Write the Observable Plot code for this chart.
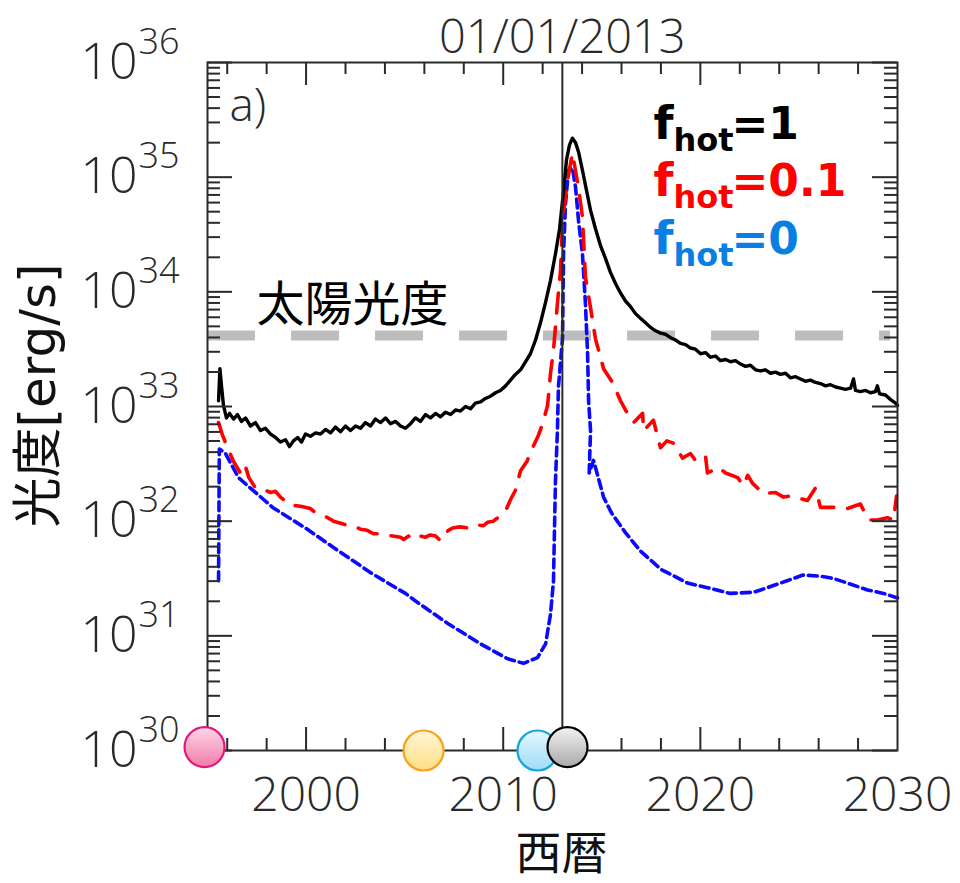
<!DOCTYPE html>
<html>
<head>
<meta charset="utf-8">
<script src="https://cdn.jsdelivr.net/npm/d3@7"></script>
<script src="https://cdn.jsdelivr.net/npm/@observablehq/plot@0.6"></script>
<style>
  body { margin: 0; background: #fff; }
</style>
</head>
<body>
<div id="chart"></div>
<script>
// ---- luminosity curves (log10 of L in erg/s) ----
// f_hot = 1
const hot1Year = [1995.56,1995.63,1995.71,1995.81,1995.96,1996.12,1996.32,1996.52,1996.72,1996.93,1997.18,1997.43,1997.69,1997.94,1998.20,1998.45,1998.70,1998.96,1999.16,1999.36,1999.57,1999.77,1999.97,2000.22,2000.48,2000.73,2000.99,2001.24,2001.49,2001.75,2002.00,2002.25,2002.51,2002.76,2003.01,2003.27,2003.52,2003.78,2004.03,2004.28,2004.54,2004.79,2005.04,2005.30,2005.55,2005.80,2006.06,2006.31,2006.57,2006.82,2007.07,2007.33,2007.58,2007.83,2008.09,2008.34,2008.59,2008.85,2009.10,2009.36,2009.61,2009.86,2010.12,2010.37,2010.62,2010.88,2011.13,2011.38,2011.64,2011.89,2012.15,2012.40,2012.65,2012.86,2013.06,2013.21,2013.36,2013.51,2013.67,2013.82,2014.02,2014.23,2014.43,2014.68,2014.94,2015.19,2015.44,2015.70,2015.95,2016.20,2016.46,2016.71,2016.96,2017.22,2017.47,2017.73,2017.98,2018.23,2018.49,2018.74,2018.99,2019.25,2019.50,2019.75,2020.01,2020.26,2020.51,2020.77,2021.02,2021.28,2021.53,2021.78,2022.04,2022.29,2022.54,2022.80,2023.05,2023.30,2023.56,2023.81,2024.06,2024.32,2024.57,2024.83,2025.08,2025.33,2025.59,2025.84,2026.09,2026.35,2026.60,2026.86,2027.11,2027.36,2027.62,2027.77,2027.87,2028.12,2028.38,2028.63,2028.88,2028.98,2029.09,2029.39,2029.65,2029.90,2030.00];
const hot1LogL = [33.05,33.33,33.18,33.01,32.90,32.94,32.89,32.93,32.87,32.90,32.83,32.86,32.79,32.81,32.76,32.73,32.69,32.71,32.65,32.70,32.73,32.69,32.76,32.74,32.77,32.76,32.80,32.77,32.82,32.78,32.83,32.79,32.83,32.81,32.86,32.83,32.89,32.86,32.90,32.85,32.87,32.83,32.81,32.85,32.90,32.87,32.93,32.90,32.94,32.91,32.95,32.93,32.97,32.96,33.00,32.98,33.03,33.04,33.07,33.09,33.12,33.14,33.18,33.23,33.28,33.32,33.39,33.46,33.58,33.73,33.91,34.10,34.33,34.55,34.88,35.15,35.28,35.34,35.30,35.22,35.06,34.88,34.71,34.55,34.40,34.29,34.17,34.07,33.99,33.92,33.87,33.81,33.77,33.73,33.69,33.66,33.64,33.63,33.60,33.58,33.55,33.54,33.51,33.50,33.46,33.47,33.43,33.44,33.40,33.41,33.39,33.40,33.37,33.35,33.36,33.32,33.31,33.32,33.29,33.30,33.28,33.29,33.25,33.26,33.24,33.22,33.23,33.21,33.20,33.18,33.19,33.17,33.16,33.15,33.16,33.24,33.14,33.13,33.14,33.12,33.13,33.18,33.11,33.10,33.06,33.03,33.01];

// f_hot = 0.1
const hot01Year = [1995.56,1995.76,1996.07,1996.32,1996.67,1996.90,1997.10,1997.43,1997.79,1998.20,1998.45,1998.70,1999.21,1999.72,2000.22,2000.50,2000.73,2001.10,2001.39,2001.80,2002.15,2002.50,2002.76,2003.10,2003.42,2003.80,2004.03,2004.40,2004.79,2004.95,2005.20,2005.55,2005.80,2006.06,2006.30,2006.57,2006.82,2007.00,2007.22,2007.43,2007.80,2008.24,2008.60,2009.00,2009.20,2009.50,2009.86,2010.12,2010.35,2010.62,2010.88,2011.20,2011.49,2011.79,2012.00,2012.25,2012.40,2012.55,2012.75,2012.91,2013.01,2013.26,2013.51,2013.82,2014.02,2014.17,2014.43,2014.68,2015.09,2015.54,2015.95,2016.20,2016.61,2017.07,2017.12,2017.62,2017.98,2018.30,2018.64,2019.09,2019.50,2019.75,2020.26,2020.36,2020.92,2021.28,2021.89,2022.19,2022.40,2022.65,2023.20,2023.81,2024.22,2024.57,2025.00,2025.43,2025.84,2026.09,2026.86,2027.46,2028.12,2028.53,2028.98,2029.49,2029.80,2029.95];
const hot01LogL = [32.86,32.75,32.62,32.52,32.42,32.49,32.38,32.29,32.28,32.25,32.26,32.21,32.14,32.13,32.11,32.07,32.06,32.03,32.00,31.98,31.96,31.95,31.93,31.92,31.89,31.89,31.88,31.87,31.86,31.84,31.87,31.84,31.87,31.86,31.88,31.87,31.83,31.88,31.92,31.94,31.95,31.94,31.97,31.96,31.99,32.00,32.05,32.09,32.18,32.27,32.44,32.52,32.64,32.75,32.85,33.01,33.29,33.49,33.90,34.19,34.62,34.97,35.21,34.91,34.65,34.13,33.86,33.59,33.33,33.21,33.05,32.97,32.86,32.94,32.79,32.88,32.64,32.70,32.68,32.55,32.59,32.53,32.57,32.42,32.47,32.42,32.38,32.31,32.40,32.33,32.24,32.25,32.21,32.22,32.20,32.18,32.29,32.12,32.12,32.11,32.15,32.01,32.01,32.03,32.01,32.22];

// f_hot = 0
const hot0Year = [1995.56,1995.60,1995.91,1996.57,1998.30,1999.97,2001.65,2003.37,2005.04,2005.50,2007.17,2008.85,2010.22,2011.03,2011.74,2012.15,2012.40,2012.55,2012.60,2012.65,2012.75,2012.80,2013.01,2013.06,2013.16,2013.31,2013.51,2013.67,2013.82,2014.02,2014.17,2014.28,2014.33,2014.43,2014.36,2014.58,2015.09,2015.50,2016.20,2016.96,2018.00,2019.35,2020.36,2021.50,2022.70,2023.40,2024.40,2025.20,2026.10,2026.75,2027.46,2028.48,2029.29,2030.00];
const hot0LogL = [31.48,32.63,32.59,32.38,32.12,31.94,31.74,31.54,31.37,31.31,31.11,30.93,30.80,30.76,30.81,30.93,31.19,31.48,31.92,32.35,32.79,33.17,33.60,34.33,34.77,35.06,35.08,34.91,34.62,34.33,33.90,33.46,33.05,32.79,32.42,32.53,32.21,32.07,31.90,31.74,31.58,31.46,31.42,31.37,31.38,31.42,31.48,31.53,31.52,31.50,31.46,31.40,31.37,31.33];

// reference levels and markers
const solarLogL = 33.62;          // 太陽光度
const eventYear = 2013;           // 01/01/2013
const markerYears = [1994.85, 2005.96, 2011.74, 2013.26];
const markerLogL = [30.03, 30.0, 30.0, 30.03];
const markerStops = [["#fdd7e6", "#f27aa8"], ["#fff6d6", "#ffdf85"], ["#e4f7ff", "#9edcf6"], ["#f2f2f2", "#a9a9a9"]];
const markerStroke = ["#e0187c", "#f5a31e", "#14a5d8", "#000000"];

// axis ticks
const xMajor = [2000, 2010, 2020];
const xMinor = [1996, 1998, 2002, 2004, 2006, 2008, 2012, 2014, 2016, 2018, 2022, 2024, 2026, 2028];
const xLabels = [2000, 2010, 2020, 2030];
const yDecades = [30, 31, 32, 33, 34, 35, 36];

// legend
const legendValues = ["1", "0.1", "0"];
const legendColors = ["#000000", "#ff0000", "#0a7fe2"];

const toRows = (years, logs) => years.map((t, i) => ({year: t, lum: 10 ** logs[i]}));
const hot1 = toRows(hot1Year, hot1LogL);
const hot01 = toRows(hot01Year, hot01LogL);
const hot0 = toRows(hot0Year, hot0LogL);
const yMinor = yDecades.slice(0, -1).flatMap(k => [2,3,4,5,6,7,8,9].map(m => m * 10 ** k));

const W = 960, H = 883, ML = 207, MR = 63, MT = 62, MB = 133;
const PW = W - ML - MR, PH = H - MT - MB;
const ink = "#2a2a2a";
const thin = "Open Sans";
const thinWeight = 300;

// gradient definitions for the round markers
function gradients() {
  const ns = "http://www.w3.org/2000/svg";
  const defs = document.createElementNS(ns, "defs");
  markerStops.forEach(([a, b], i) => {
    const g = document.createElementNS(ns, "linearGradient");
    g.setAttribute("id", "mk" + i);
    g.setAttribute("x1", "0"); g.setAttribute("y1", "0");
    g.setAttribute("x2", "0"); g.setAttribute("y2", "1");
    [[0, a], [1, b]].forEach(([o, c]) => {
      const s = document.createElementNS(ns, "stop");
      s.setAttribute("offset", o); s.setAttribute("stop-color", c);
      g.appendChild(s);
    });
    defs.appendChild(g);
  });
  return defs;
}

const legendMarks = legendValues.flatMap((v, i) => {
  const base = 76 + i * 57.5;
  return [
    Plot.text(["f"], {frameAnchor: "top-left", text: d => d, dx: 446, dy: base, lineAnchor: "bottom",
      fill: legendColors[i], fontFamily: "DejaVu Sans", fontWeight: "bold", fontSize: 46}),
    Plot.text(["hot"], {frameAnchor: "top-left", text: d => d, dx: 466, dy: base + 12, lineAnchor: "bottom",
      fill: legendColors[i], fontFamily: "DejaVu Sans", fontWeight: "bold", fontSize: 32}),
    Plot.text(["=" + v], {frameAnchor: "top-left", text: d => d, dx: 524, dy: base, lineAnchor: "bottom",
      fill: legendColors[i], fontFamily: "DejaVu Sans", fontWeight: "bold", fontSize: 44})
  ];
});

const markerMarks = markerYears.map((t, i) => Plot.dot([{year: t, lum: 10 ** markerLogL[i]}], {
  x: "year", y: "lum", r: 20, fill: `url(#mk${i})`, stroke: markerStroke[i], strokeWidth: 2.2
}));

const chart = Plot.plot({
  width: W, height: H,
  marginLeft: ML, marginRight: MR, marginTop: MT, marginBottom: MB,
  style: {background: "#fff", overflow: "visible", fontFamily: thin},
  x: {domain: [1995, 2030], axis: null},
  y: {type: "log", domain: [1e30, 1e36], axis: null},
  marks: [
    gradients,
    // solar luminosity reference
    Plot.ruleY([10 ** solarLogL], {stroke: "#bdbdbd", strokeWidth: 10, strokeDasharray: "48,36", insetRight: 7}),
    Plot.text(["太陽光度"], {frameAnchor: "top-left", text: d => d, dx: 49, dy: 243, lineAnchor: "middle",
      fontFamily: "Noto Sans CJK JP", fontSize: 48, fill: "#000"}),
    // curves
    Plot.line(hot0, {x: "year", y: "lum", stroke: "#0a0aff", strokeWidth: 3.6, strokeDasharray: "9,5"}),
    Plot.line(hot01, {x: "year", y: "lum", stroke: "#ff0000", strokeWidth: 3.6, strokeDasharray: "20,14"}),
    Plot.line(hot1, {x: "year", y: "lum", stroke: "#000", strokeWidth: 3.4}),
    // epoch marker
    Plot.ruleX([eventYear], {stroke: ink, strokeWidth: 2}),
    Plot.text([eventYear], {x: d => d, frameAnchor: "top", text: () => "01/01/2013", lineAnchor: "bottom",
      dy: -10, fontSize: 47, fontWeight: thinWeight, fill: ink}),
    // ticks (inward, all four sides)
    Plot.tickX(xMajor, {x: d => d, insetTop: PH - 23, stroke: ink, strokeWidth: 2}),
    Plot.tickX(xMajor, {x: d => d, insetBottom: PH - 23, stroke: ink, strokeWidth: 2}),
    Plot.tickX(xMinor, {x: d => d, insetTop: PH - 12, stroke: ink, strokeWidth: 2}),
    Plot.tickX(xMinor, {x: d => d, insetBottom: PH - 12, stroke: ink, strokeWidth: 2}),
    Plot.tickY(yDecades, {y: d => 10 ** d, insetRight: PW - 25, stroke: ink, strokeWidth: 2}),
    Plot.tickY(yDecades, {y: d => 10 ** d, insetLeft: PW - 25, stroke: ink, strokeWidth: 2}),
    Plot.tickY(yMinor, {y: d => d, insetRight: PW - 13, stroke: ink, strokeWidth: 2}),
    Plot.tickY(yMinor, {y: d => d, insetLeft: PW - 13, stroke: ink, strokeWidth: 2}),
    Plot.frame({stroke: ink, strokeWidth: 2}),
    // tick labels
    Plot.text(xLabels, {x: d => d, frameAnchor: "bottom", text: d => String(d), lineAnchor: "bottom",
      dy: 60, fontSize: 48, fontWeight: thinWeight, fill: ink}),
    Plot.text(yDecades, {y: d => 10 ** d, frameAnchor: "left", text: () => "10", textAnchor: "end",
      lineAnchor: "bottom", dx: -70, dy: 16, fontSize: 50, fontWeight: thinWeight, fill: ink}),
    Plot.text(yDecades, {y: d => 10 ** d, frameAnchor: "left", text: d => String(d), textAnchor: "start",
      lineAnchor: "bottom", dx: -69, dy: -9, fontSize: 36, fontWeight: thinWeight, fill: ink}),
    // axis titles and panel tag
    Plot.text(["光度[erg/s]"], {frameAnchor: "left", text: d => d, rotate: -90, textAnchor: "middle",
      lineAnchor: "middle", dx: -169, dy: -11,
      fontFamily: "DejaVu Sans, Noto Sans CJK JP", fontSize: 50, fill: "#111"}),
    Plot.text(["西暦"], {frameAnchor: "bottom", text: d => d, dx: 9, dy: 104, lineAnchor: "middle",
      fontFamily: "Noto Sans CJK JP", fontSize: 46, fill: "#111"}),
    Plot.text(["a)"], {frameAnchor: "top-left", text: d => d, dx: 22, dy: 58, lineAnchor: "bottom",
      fontSize: 46, fontWeight: thinWeight, fill: ink}),
    // legend
    ...legendMarks,
    // event markers on the time axis
    ...markerMarks
  ]
});

document.getElementById("chart").appendChild(chart);
</script>
</body>
</html>
